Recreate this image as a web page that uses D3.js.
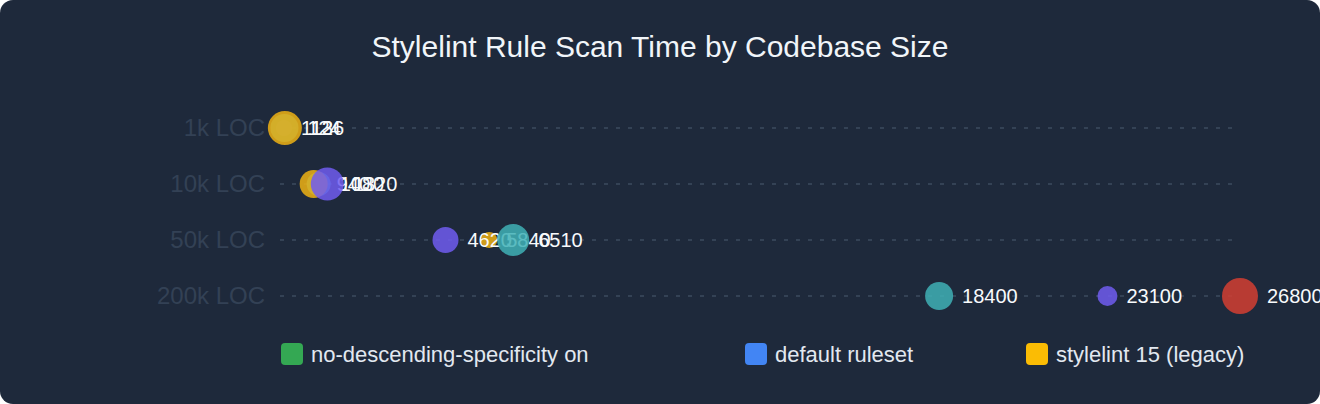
<!DOCTYPE html>
<html>
<head>
<meta charset="utf-8">
<script src="https://cdn.jsdelivr.net/npm/d3@7/dist/d3.min.js"></script>
<style>
  html, body { margin: 0; padding: 0; background: #ffffff; }
  svg { display: block; }
  text { font-family: "Liberation Sans", Arial, Helvetica, sans-serif; }
</style>
</head>
<body>
<svg id="chart" width="1320" height="404"></svg>
<script>
// ---- data ----
const categories = ["1k LOC", "10k LOC", "50k LOC", "200k LOC"];
const seriesNames = ["no-descending-specificity on", "default ruleset", "stylelint 15 (legacy)"];
// scan time (ms) per codebase size
const noDescSpecificityMs = [124, 1080, 6510, 18400];
const defaultRulesetMs    = [112, 1320, 4620, 23100];
const legacy15Ms          = [136, 940, 5840, 26800];
// warnings reported per run (drives bubble size)
const noDescSpecificityWarnings = [196, 144, 256, 196];
const defaultRulesetWarnings    = [64, 272, 169, 100];
const legacy15Warnings          = [289, 196, 64, 324];
const slowThresholdMs = 25000;

// ---- layout / styles ----
const W = 1320, H = 404;
const svg = d3.select("#chart");
svg.append("rect").attr("width", W).attr("height", H).attr("rx", 13).attr("fill", "#1e293b");

svg.append("text")
  .attr("x", W / 2).attr("y", 57)
  .attr("text-anchor", "middle")
  .attr("font-size", 30)
  .attr("fill", "#f1f5f9")
  .text("Stylelint Rule Scan Time by Codebase Size");

const seriesColors = ["#3fb0b6", "#705cf0", "#eeb214"];
const slowColor = "#d43e33";
const legendColors = ["#34a853", "#4285f4", "#fbbc04"];

const allMs = [noDescSpecificityMs, defaultRulesetMs, legacy15Ms];
const allWarn = [noDescSpecificityWarnings, defaultRulesetWarnings, legacy15Warnings];

const x = d3.scaleLinear()
  .domain([0, d3.max(allMs.flat())])
  .range([280, 1240]);
const y = d3.scalePoint().domain(categories).range([128, 296]);
const r = d3.scaleSqrt().domain([0, d3.max(allWarn.flat())]).range([0, 18]);

// grid lines
svg.append("g").selectAll("line").data(categories).join("line")
  .attr("x1", 280).attr("x2", 1232)
  .attr("y1", d => y(d)).attr("y2", d => y(d))
  .attr("stroke", "#3d4b5f").attr("stroke-width", 1.5)
  .attr("stroke-dasharray", "4 8");

// y axis labels
const yAxis = d3.axisLeft(y).tickSize(0).tickPadding(0);
const gy = svg.append("g").attr("transform", "translate(265,0)").call(yAxis);
gy.select(".domain").remove();
gy.selectAll("text")
  .attr("font-size", 24)
  .attr("fill", "#334155")
  .attr("font-family", "\"Liberation Sans\", Arial, sans-serif");

// points: within each row, smaller bubbles are drawn first
const points = [];
categories.forEach((c, i) => {
  const row = allMs.map((vals, s) => ({ cat: c, series: s, ms: vals[i], warn: allWarn[s][i] }));
  row.sort((a, b) => a.warn - b.warn);
  points.push(...row);
});

const g = svg.append("g");
points.forEach(p => {
  const cx = x(p.ms), cy = y(p.cat), rad = r(p.warn);
  g.append("circle")
    .attr("cx", cx).attr("cy", cy).attr("r", rad)
    .attr("fill", p.ms > slowThresholdMs ? slowColor : seriesColors[p.series])
    .attr("fill-opacity", 0.85);
  g.append("text")
    .attr("x", cx + rad + 9).attr("y", cy)
    .attr("dy", "0.35em")
    .attr("font-size", 20)
    .attr("fill", "#f8fafc")
    .text(p.ms);
});

// legend
const legendX = [281, 745, 1026];
const lg = svg.append("g").selectAll("g").data(seriesNames).join("g")
  .attr("transform", (d, i) => `translate(${legendX[i]},343)`);
lg.append("rect").attr("width", 22).attr("height", 22).attr("rx", 4)
  .attr("fill", (d, i) => legendColors[i]);
lg.append("text").attr("x", 30).attr("y", 11).attr("dy", "0.35em")
  .attr("font-size", 22).attr("fill", "#e2e8f0").text(d => d);
</script>
</body>
</html>
